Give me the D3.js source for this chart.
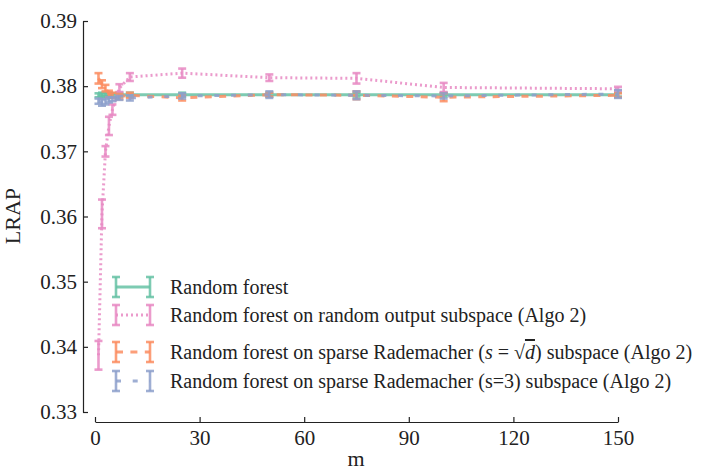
<!DOCTYPE html>
<html>
<head>
<meta charset="utf-8">
<script src="https://cdn.jsdelivr.net/npm/d3@7"></script>
<style>
  body { margin: 0; background: #fff; }
  svg { font-family: "Liberation Serif", "Times New Roman", serif; }
</style>
</head>
<body>
<script>
// number of output dimensions m
var mValues = [1, 2, 3, 4, 5, 7, 10, 25, 50, 75, 100, 150];

// LRAP per method
var rf        = [0.3786, 0.3787, 0.3787, 0.3787, 0.3786, 0.3787, 0.3787, 0.3787, 0.3787, 0.3787, 0.3787, 0.3787];
var rfErr     = [0.0003, 0.0003, 0.0003, 0.0003, 0.0003, 0.0003, 0.0003, 0.0003, 0.0003, 0.0003, 0.0003, 0.0003];
var gauss     = [0.3387, 0.3604, 0.3700, 0.3739, 0.3764, 0.3797, 0.3814, 0.3820, 0.3813, 0.3812, 0.3798, 0.3796];
var gaussErr  = [0.0022, 0.0022, 0.0008, 0.0014, 0.0008, 0.0006, 0.0006, 0.0007, 0.0005, 0.0008, 0.0007, 0.0003];
var sqrtD     = [0.3812, 0.3803, 0.3797, 0.3788, 0.3786, 0.3784, 0.3786, 0.3782, 0.3787, 0.3786, 0.3783, 0.3786];
var sqrtDErr  = [0.0008, 0.0006, 0.0005, 0.0005, 0.0004, 0.0004, 0.0004, 0.0004, 0.0003, 0.0006, 0.0006, 0.0003];
var s3        = [0.3777, 0.3775, 0.3776, 0.3779, 0.3780, 0.3782, 0.3782, 0.3785, 0.3787, 0.3786, 0.3785, 0.3788];
var s3Err     = [0.0004, 0.0005, 0.0004, 0.0004, 0.0003, 0.0003, 0.0004, 0.0004, 0.0005, 0.0006, 0.0004, 0.0006];

var xTicks = [0, 30, 60, 90, 120, 150];
var yTicks = [0.33, 0.34, 0.35, 0.36, 0.37, 0.38, 0.39];

var series = [
  {vals: rf,    err: rfErr,    color: "#66c2a5", dash: null},
  {vals: gauss, err: gaussErr, color: "#e78ac3", dash: "2,3"},
  {vals: sqrtD, err: sqrtDErr, color: "#fc8d62", dash: "7,7.4"},
  {vals: s3,    err: s3Err,    color: "#8da0cb", dash: "5,11.7"}
];

var W = 706, H = 473;
var svg = d3.select("body").append("svg")
    .attr("width", W)
    .attr("height", H);

var x = d3.scaleLinear().domain([0, 150]).range([95, 618]);
var y = d3.scaleLinear().domain([0.33, 0.39]).range([412, 21]);

// axes (offset spines, ticks pointing inward)
var yAxis = svg.append("g")
    .attr("transform", "translate(83,0)")
    .call(d3.axisLeft(y).tickValues(yTicks).tickFormat(d3.format(".2f"))
        .tickSizeInner(-5).tickSizeOuter(0).tickPadding(6));
var xAxis = svg.append("g")
    .attr("transform", "translate(0,422)")
    .call(d3.axisBottom(x).tickValues(xTicks)
        .tickSizeInner(-5).tickSizeOuter(0).tickPadding(8));

[xAxis, yAxis].forEach(function (g) {
  g.selectAll("path.domain").attr("stroke", "#222").attr("stroke-width", 1.2);
  g.selectAll(".tick line").attr("stroke", "#222").attr("stroke-width", 1.2);
  g.selectAll(".tick text").attr("fill", "#222")
      .style("font-family", "'Liberation Serif', serif").style("font-size", "21px");
});

svg.append("text")
    .attr("transform", "translate(20,216) rotate(-90)")
    .attr("text-anchor", "middle")
    .style("font-size", "22px").attr("fill", "#222")
    .text("LRAP");
svg.append("text")
    .attr("x", 356).attr("y", 466)
    .attr("text-anchor", "middle")
    .style("font-size", "22px").attr("fill", "#222")
    .text("m");

var line = d3.line()
    .x(function (d) { return x(d[0]); })
    .y(function (d) { return y(d[1]); });

var capW = 4, alpha = 0.85;

series.forEach(function (s) {
  var g = svg.append("g");
  var pts = mValues.map(function (m, i) { return [m, s.vals[i], s.err[i]]; });

  g.append("path")
      .datum(pts)
      .attr("d", line)
      .attr("fill", "none")
      .attr("stroke", s.color)
      .attr("stroke-opacity", alpha)
      .attr("stroke-width", 3)
      .attr("stroke-dasharray", s.dash);

  var bars = g.selectAll("g.bar").data(pts).enter().append("g").attr("class", "bar");
  bars.append("line")
      .attr("x1", function (d) { return x(d[0]); })
      .attr("x2", function (d) { return x(d[0]); })
      .attr("y1", function (d) { return y(d[1] - d[2]); })
      .attr("y2", function (d) { return y(d[1] + d[2]); });
  bars.append("line")
      .attr("x1", function (d) { return x(d[0]) - capW; })
      .attr("x2", function (d) { return x(d[0]) + capW; })
      .attr("y1", function (d) { return y(d[1] - d[2]); })
      .attr("y2", function (d) { return y(d[1] - d[2]); });
  bars.append("line")
      .attr("x1", function (d) { return x(d[0]) - capW; })
      .attr("x2", function (d) { return x(d[0]) + capW; })
      .attr("y1", function (d) { return y(d[1] + d[2]); })
      .attr("y2", function (d) { return y(d[1] + d[2]); });
  bars.selectAll("line")
      .attr("stroke", s.color)
      .attr("stroke-opacity", alpha)
      .attr("stroke-width", 2.6);
});

// legend
var legendRows = [287, 315, 352, 381];
var lx1 = 116, lx2 = 150, lh = 10;

series.forEach(function (s, i) {
  var ly = legendRows[i];
  var g = svg.append("g");
  g.append("line")
      .attr("x1", lx1).attr("x2", lx2).attr("y1", ly).attr("y2", ly)
      .attr("stroke-dasharray", s.dash)
      .attr("stroke-width", 3);
  [lx1, lx2].forEach(function (cx) {
    g.append("line").attr("x1", cx).attr("x2", cx).attr("y1", ly - lh).attr("y2", ly + lh);
    g.append("line").attr("x1", cx - capW).attr("x2", cx + capW).attr("y1", ly - lh).attr("y2", ly - lh);
    g.append("line").attr("x1", cx - capW).attr("x2", cx + capW).attr("y1", ly + lh).attr("y2", ly + lh);
  });
  g.selectAll("line")
      .attr("stroke", s.color)
      .attr("stroke-opacity", alpha)
      .filter(function () { return !this.getAttribute("stroke-width"); })
      .attr("stroke-width", 2.6);
});

function legendText(i) {
  return svg.append("text")
      .attr("x", 170).attr("y", legendRows[i] + 7)
      .style("font-size", "20px").attr("fill", "#222");
}
legendText(0).text("Random forest");
legendText(1).text("Random forest on random output subspace (Algo 2)");
var t3 = legendText(2);
t3.append("tspan").text("Random forest on sparse Rademacher (");
t3.append("tspan").style("font-style", "italic").text("s");
t3.append("tspan").text(" = \u221A");
t3.append("tspan").style("font-style", "italic").style("text-decoration", "overline").text("d");
t3.append("tspan").text(") subspace (Algo 2)");
legendText(3).text("Random forest on sparse Rademacher (s=3) subspace (Algo 2)");
</script>
</body>
</html>
